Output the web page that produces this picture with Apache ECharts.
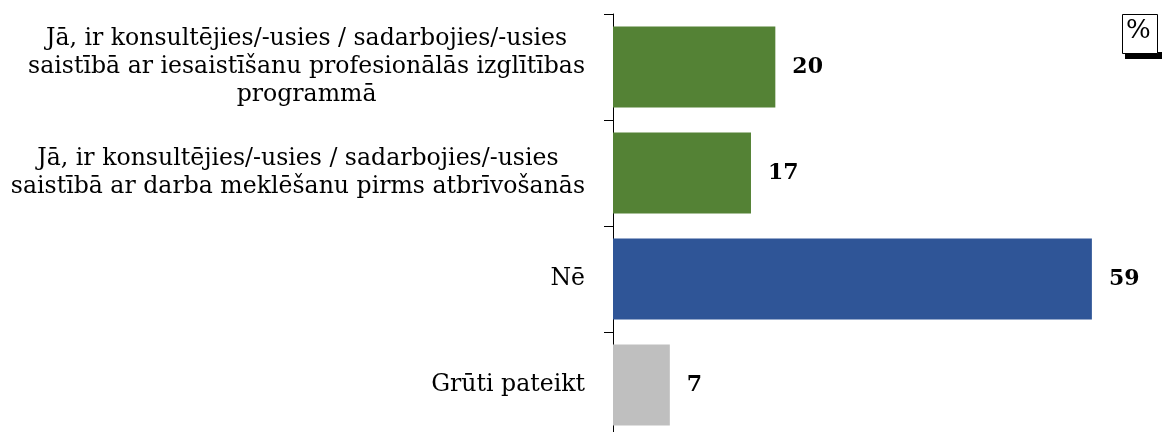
<!DOCTYPE html>
<html>
<head>
<meta charset="utf-8">
<script src="https://cdn.jsdelivr.net/npm/echarts@6/dist/echarts.min.js"></script>
<style>
  html, body { margin: 0; padding: 0; background: #fff; }
  #chart { width: 1162px; height: 432px; }
</style>
</head>
<body>
<div id="chart"></div>
<script>
// categories (top to bottom), lines split as in the picture
const categories = [
  ['Jā, ir konsultējies/-usies / sadarbojies/-usies', 'saistībā ar iesaistīšanu profesionālās izglītības', 'programmā'],
  ['Jā, ir konsultējies/-usies / sadarbojies/-usies', 'saistībā ar darba meklēšanu pirms atbrīvošanās'],
  ['Nē'],
  ['Grūti pateikt']
]
const values = [20, 17, 59, 7]
const barColors = ['#548235', '#548235', '#2F5597', '#BFBFBF']
const unitLabel = '%'

const FONT = '"DejaVu Serif", "Liberation Serif", serif'

const chart = echarts.init(document.getElementById('chart'))

chart.setOption({
  animation: false,
  backgroundColor: '#fff',
  // unit box in the top right corner
  graphic: [
    { type: 'rect', left: 1125, top: 52, shape: { width: 40, height: 7 }, style: { fill: '#000' } },
    {
      type: 'rect', left: 1122, top: 14, z: 10,
      shape: { width: 35, height: 39 },
      style: { fill: '#fff', stroke: '#000', lineWidth: 1 }
    },
    {
      type: 'text', left: 1126, top: 18, z: 11,
      style: { text: unitLabel, font: '26px ' + FONT, fill: '#000' }
    }
  ],
  grid: { left: 613, right: 62, top: 14, height: 424, outerBoundsMode: 'none' },
  xAxis: {
    type: 'value',
    min: 0,
    max: 60,
    show: false
  },
  yAxis: {
    type: 'category',
    inverse: true,
    data: categories.map((c) => c.join('\n')),
    axisLine: { show: true, lineStyle: { color: '#000', width: 1 } },
    axisTick: { show: true, length: 9, lineStyle: { color: '#000' } },
    axisLabel: {
      margin: 28,
      fontFamily: FONT,
      fontSize: 23.6,
      color: '#000',
      formatter: (v) => v.split('\n').map((l) => '{c|' + l + '}').join('\n'),
      rich: {
        c: { align: 'center', fontFamily: FONT, fontSize: 23.6, lineHeight: 28, color: '#000' }
      }
    }
  },
  series: [
    {
      type: 'bar',
      barWidth: 81,
      data: values.map((v, i) => ({ value: v, itemStyle: { color: barColors[i] } })),
      label: {
        show: true,
        position: 'right',
        distance: 17,
        fontFamily: FONT,
        fontSize: 22,
        fontWeight: 'bold',
        color: '#000'
      }
    }
  ]
})
</script>
</body>
</html>
